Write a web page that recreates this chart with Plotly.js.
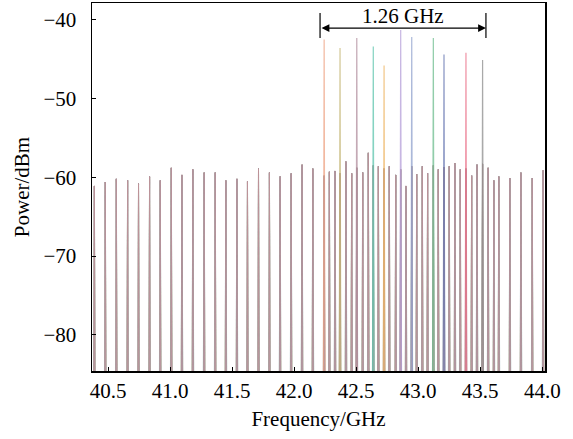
<!DOCTYPE html>
<html>
<head>
<meta charset="utf-8">
<script src="https://cdn.plot.ly/plotly-3.0.1.min.js"></script>
<style>html,body{margin:0;padding:0;background:#fff;}#chart{width:573px;height:439px;}</style>
</head>
<body>
<div id="chart"></div>
<script>
// Background comb lines (GHz, dBm)
const combFreq = [
  40.390, 40.478, 40.567, 40.658, 40.746, 40.835, 40.921, 41.010, 41.096, 41.184,
  41.275, 41.364, 41.450, 41.539, 41.624, 41.713, 41.801, 41.887, 41.976, 42.064,
  42.151,
  42.242, 42.284, 42.330, 42.370, 42.418, 42.464, 42.505, 42.553, 42.598, 42.638,
  42.679, 42.725, 42.767, 42.819, 42.859, 42.902, 42.948, 42.988, 43.033, 43.076,
  43.122, 43.162, 43.208, 43.250, 43.296, 43.339, 43.385, 43.431, 43.474, 43.519,
  43.564, 43.610, 43.650,
  43.739, 43.828, 43.919, 44.007
];
const combPower = [
  -61.1, -60.6, -60.2, -60.4, -60.8, -59.9, -60.4, -58.8, -59.7, -59.0,
  -59.4, -59.4, -60.4, -60.2, -60.5, -58.9, -59.4, -59.9, -59.5, -58.4,
  -58.9,
  -59.8, -59.3, -59.2, -59.5, -58.0, -59.5, -58.8, -59.4, -56.9, -58.5,
  -58.6, -58.9, -58.6, -59.7, -59.0, -61.1, -58.6, -59.6, -58.6, -59.5,
  -58.5, -59.0, -58.7, -58.6, -58.2, -59.0, -58.9, -59.8, -58.4, -58.3,
  -58.8, -60.4, -59.9,
  -60.1, -59.4, -60.1, -59.1
];
// Strong tones, one per measured trace
const toneFreq  = [42.242, 42.370, 42.505, 42.638, 42.725, 42.859, 42.948, 43.122, 43.208, 43.385, 43.519];
const tonePower = [-42.5, -43.6, -42.3, -43.4, -45.8, -41.3, -42.2, -42.3, -44.4, -44.2, -45.1];
const toneColors = ['#eea282', '#c4b574', '#b08c9c', '#5cc4ac', '#eeb462', '#b49ed8',
                    '#8fa0cc', '#6cbc8e', '#6474b0', '#ea7088', '#8c8c8c'];

// Span annotation
const spanStart = 42.209, spanEnd = 43.546;
const spanLabel = '1.26 GHz';

const FLOOR = -110;
function spikes(list, hw) {
  const x = [], y = [];
  list.sort((a, b) => a[0] - b[0]).forEach(([f, p]) => { x.push(f - hw, f, f + hw); y.push(FLOOR, p, FLOOR); });
  return {x, y};
}
const traces = [];
const order = toneFreq.map((_, i) => i).sort((a, b) => ((b * 7) % 11) - ((a * 7) % 11));
order.forEach((i) => {
  const hw = 0.005 + 0.0009 * ((i * 7) % 11);
  const peaks = [];
  combFreq.forEach((f, k) => { if (Math.abs(f - toneFreq[i]) > 0.005) peaks.push([f, combPower[k]]); });
  const s = spikes(peaks, hw);
  traces.push({x: s.x, y: s.y, type: 'scatter', mode: 'lines', hoverinfo: 'skip',
               line: {color: toneColors[i], width: 1}, opacity: 0.32, showlegend: false});
});
toneFreq.forEach((tf, i) => {
  const s = spikes([[tf, tonePower[i]]], 0.01);
  traces.push({x: s.x, y: s.y, type: 'scatter', mode: 'lines', hoverinfo: 'skip',
               line: {color: toneColors[i], width: 1.2}, opacity: 0.75, showlegend: false});
});

const font = {family: '"Liberation Serif", "Times New Roman", serif', size: 21, color: '#000'};
const layout = {
  width: 573, height: 439,
  margin: {l: 92, r: 28, t: 3, b: 68},
  paper_bgcolor: '#fff', plot_bgcolor: '#fff',
  font: font,
  showlegend: false,
  xaxis: {
    range: [40.371, 44.022], tick0: 40.5, dtick: 0.5, tickformat: '.1f',
    ticks: 'inside', ticklen: 4, tickwidth: 1, tickcolor: '#000',
    showline: true, linecolor: '#000', linewidth: 1.5, mirror: true,
    showgrid: false, zeroline: false, ticklabelstandoff: 0,
    title: {text: 'Frequency/GHz', font: font, standoff: 9}
  },
  yaxis: {
    range: [-84.6, -37.87], tick0: -80, dtick: 10,
    ticks: 'inside', ticklen: 4, tickwidth: 1, tickcolor: '#000',
    showline: true, linecolor: '#000', linewidth: 1.5, mirror: true,
    showgrid: false, zeroline: false, ticklabelstandoff: 10,
    title: {text: 'Power/dBm', font: font, standoff: 8}
  },
  shapes: [
    {type: 'line', xref: 'x', yref: 'y', x0: spanStart, x1: spanStart, y0: -39.15, y1: -42.3, line: {color: '#000', width: 1.2}},
    {type: 'line', xref: 'x', yref: 'y', x0: spanEnd, x1: spanEnd, y0: -39.15, y1: -42.3, line: {color: '#000', width: 1.2}}
  ],
  annotations: [
    {x: spanEnd, y: -41.05, ax: spanStart, ay: -41.05, xref: 'x', yref: 'y', axref: 'x', ayref: 'y',
     text: '', showarrow: true, arrowhead: 2, arrowside: 'end+start', arrowsize: 1.3, arrowwidth: 1.2,
     arrowcolor: '#000', standoff: 0, startstandoff: 0},
    {x: (spanStart + spanEnd) / 2, y: -39.47, xref: 'x', yref: 'y', text: spanLabel,
     showarrow: false, font: font, yanchor: 'middle', xanchor: 'center'}
  ]
};
Plotly.newPlot('chart', traces, layout, {staticPlot: true});
</script>
</body>
</html>
